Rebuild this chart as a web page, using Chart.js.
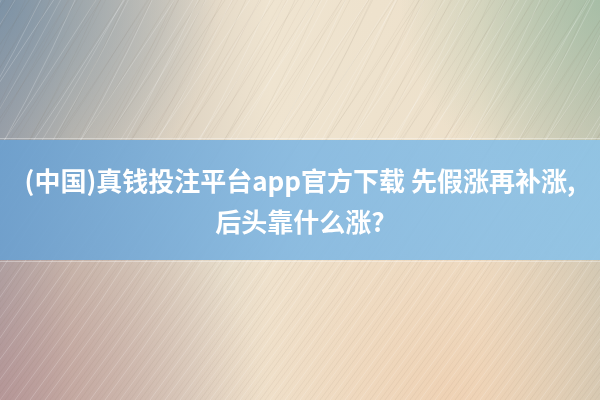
<!DOCTYPE html>
<html lang="zh">
<head>
  <meta charset="UTF-8" />
  <title>先假涨再补涨</title>
  <script src="https://cdn.jsdelivr.net/npm/chart.js"></script>
  <style>
    html, body { margin: 0; padding: 0; background: #efe3cf; }
    .wrap { position: relative; width: 600px; height: 400px; }
  </style>
</head>
<body>
  <div class="wrap"><canvas id="banner"></canvas></div>
  <script>
    // title text, one entry per line
    const titleLines = ['(中国)真钱投注平台app官方下载 先假涨再补涨,', '后头靠什么涨?'];
    // empty category axis, nothing plotted
    const categories = [];
    const values = [];

    // paper background + blue band
    const bannerBg = {
      id: 'bannerBg',
      beforeDraw(chart) {
        const { ctx, width, height } = chart;
        ctx.save();
        let g = ctx.createLinearGradient(0, 0, width, 0);
        g.addColorStop(0, '#a9a6a8');
        g.addColorStop(0.12, '#c9bfb2');
        g.addColorStop(0.45, '#efe4d0');
        g.addColorStop(0.8, '#ede0ca');
        g.addColorStop(1, '#cfc9b6');
        ctx.fillStyle = g;
        ctx.fillRect(0, 0, width, height);

        // corner tints
        let r = ctx.createRadialGradient(0, 0, 0, 0, 0, 220);
        r.addColorStop(0, 'rgba(110,140,165,0.75)');
        r.addColorStop(1, 'rgba(110,140,165,0)');
        ctx.fillStyle = r;
        ctx.fillRect(0, 0, width, height);
        r = ctx.createRadialGradient(width, 0, 0, width, 0, 200);
        r.addColorStop(0, 'rgba(150,185,160,0.7)');
        r.addColorStop(1, 'rgba(150,185,160,0)');
        ctx.fillStyle = r;
        ctx.fillRect(0, 0, width, height);
        r = ctx.createRadialGradient(0, height, 0, 0, height, 260);
        r.addColorStop(0, 'rgba(190,140,140,0.6)');
        r.addColorStop(1, 'rgba(190,140,140,0)');
        ctx.fillStyle = r;
        ctx.fillRect(0, 0, width, height);
        r = ctx.createRadialGradient(width * 0.75, height, 0, width * 0.75, height, 260);
        r.addColorStop(0, 'rgba(240,200,165,0.6)');
        r.addColorStop(1, 'rgba(240,200,165,0)');
        ctx.fillStyle = r;
        ctx.fillRect(0, 0, width, height);

        // faint diagonal scratches
        ctx.lineWidth = 1;
        for (let i = -400; i < width + 200; i += 5) {
          const a = 0.07 + 0.06 * Math.abs(Math.sin(i * 0.37));
          ctx.strokeStyle = (i % 3 === 0) ? `rgba(255,255,255,${a + 0.08})` : `rgba(120,100,80,${a * 0.6})`;
          ctx.beginPath();
          ctx.moveTo(i, height);
          ctx.quadraticCurveTo(i + 150, height * 0.5, i + 260 + 20 * Math.sin(i), 0);
          ctx.stroke();
        }

        // band
        const top = 140, bottom = 260;
        g = ctx.createLinearGradient(0, 0, width, 0);
        g.addColorStop(0, 'rgba(108,160,207,0.93)');
        g.addColorStop(0.5, 'rgba(130,184,226,0.9)');
        g.addColorStop(1, 'rgba(140,195,232,0.9)');
        ctx.fillStyle = g;
        ctx.fillRect(0, top, width, bottom - top);
        ctx.fillStyle = 'rgba(255,255,255,0.35)';
        ctx.fillRect(0, top - 2, width, 1);
        ctx.fillRect(0, bottom + 1, width, 1);
        ctx.restore();
      }
    };

    new Chart(document.getElementById('banner'), {
      type: 'bar',
      data: { labels: categories, datasets: [{ data: values }] },
      options: {
        responsive: true,
        maintainAspectRatio: false,
        animation: false,
        layout: { padding: { top: 161 } },
        scales: { x: { display: false }, y: { display: false } },
        plugins: {
          legend: { display: false },
          tooltip: { enabled: false },
          title: {
            display: true,
            text: titleLines,
            color: '#ffffff',
            padding: 0,
            font: { family: '"Noto Sans CJK SC", "Noto Sans", sans-serif', size: 26, weight: 'bold', lineHeight: 1.58 }
          }
        }
      },
      plugins: [bannerBg]
    });
  </script>
</body>
</html>
